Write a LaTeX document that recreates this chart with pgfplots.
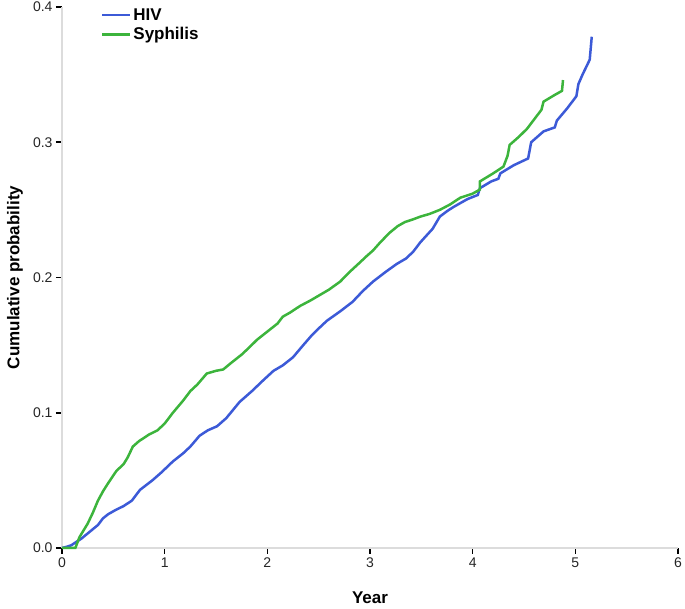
\documentclass[border=0pt]{standalone}
\usepackage{pgfplots}
\pgfplotsset{compat=1.18}
\usepackage{fontspec}
\setmainfont{Liberation Sans}

\definecolor{hivblue}{RGB}{60,90,215}
\definecolor{syphgreen}{RGB}{60,180,60}
\definecolor{axgray}{RGB}{220,220,220}

\begin{document}
\begin{tikzpicture}[x=1pt,y=1pt]
\begin{axis}[
    at={(0pt,0pt)}, anchor=south west,
    width=616pt, height=541pt, scale only axis,
    xmin=0, xmax=6, ymin=0, ymax=0.4,
    xtick={0,1,...,6}, ytick={0,0.1,0.2,0.3,0.4},
    yticklabel style={/pgf/number format/.cd, fixed, fixed zerofill, precision=1},
    /pgf/number format/assume math mode=true,
    tick label style={font=\fontsize{14}{16}\selectfont, text=black!85},
    axis lines*=left,
    axis line style={axgray, line width=1.4pt},
    tick style={black, line width=1.6pt},
    major tick style={black, line width=1.6pt},
    tick align=outside, major tick length=6pt,
    xlabel={\textbf{Year}}, ylabel={\textbf{Cumulative probability}},
    label style={font=\fontsize{17}{20}\selectfont},
    xlabel style={at={(axis description cs:0.5,-0.0924)}, anchor=center},
    ylabel style={at={(axis description cs:-0.0763,0.5)}, anchor=center},
    legend style={at={(rel axis cs:0.058,1.005)}, anchor=north west, draw=none, fill=none,
        font=\fontsize{17}{20}\selectfont\bfseries, row sep=2pt},
    legend cell align=left,
    legend image code/.code={\draw[#1, line width=2.5pt] (0pt,0pt) -- (28pt,0pt);},
    clip=false,
]
\addplot[hivblue, line width=2.5pt] coordinates {
(0,0) (0.05,0.001) (0.09,0.002) (0.19,0.007) (0.27,0.012) (0.35,0.017) (0.40,0.022)
(0.45,0.025) (0.52,0.028) (0.60,0.031) (0.68,0.035) (0.76,0.043) (0.88,0.050) (0.97,0.056)
(1.08,0.064) (1.18,0.070) (1.25,0.075) (1.34,0.083) (1.42,0.087) (1.51,0.090) (1.60,0.096)
(1.73,0.108) (1.85,0.116) (1.96,0.124) (2.06,0.131) (2.15,0.135) (2.25,0.141) (2.35,0.150)
(2.43,0.157) (2.51,0.163) (2.58,0.168) (2.71,0.175) (2.83,0.182) (2.93,0.190) (3.03,0.197)
(3.15,0.204) (3.26,0.210) (3.35,0.214) (3.42,0.219) (3.49,0.226) (3.55,0.231) (3.61,0.236)
(3.68,0.245) (3.75,0.249) (3.81,0.252) (3.88,0.255) (3.95,0.258) (4.05,0.261) (4.07,0.266)
(4.18,0.271) (4.25,0.273) (4.27,0.277) (4.40,0.283) (4.54,0.288) (4.57,0.300) (4.69,0.308)
(4.80,0.311) (4.82,0.316) (4.92,0.325) (5.01,0.334) (5.03,0.343) (5.07,0.350) (5.14,0.361)
(5.16,0.378)
};
\addlegendentry{HIV}
\addplot[syphgreen, line width=2.5pt] coordinates {
(0,0) (0.13,0) (0.17,0.008) (0.25,0.018) (0.30,0.026) (0.35,0.035) (0.40,0.042) (0.45,0.048)
(0.53,0.057) (0.60,0.062) (0.64,0.067) (0.69,0.075) (0.75,0.079) (0.85,0.084) (0.93,0.087)
(1.00,0.092) (1.08,0.100) (1.18,0.109) (1.25,0.116) (1.32,0.121) (1.41,0.129) (1.50,0.131)
(1.57,0.132) (1.65,0.137) (1.75,0.143) (1.82,0.148) (1.90,0.154) (2.00,0.160) (2.10,0.166)
(2.15,0.171) (2.22,0.174) (2.32,0.179) (2.42,0.183) (2.51,0.187) (2.60,0.191) (2.71,0.197)
(2.80,0.204) (2.90,0.211) (2.97,0.216) (3.03,0.220) (3.10,0.226) (3.19,0.233) (3.27,0.238)
(3.34,0.241) (3.42,0.243) (3.49,0.245) (3.58,0.247) (3.68,0.250) (3.78,0.254) (3.88,0.259)
(4.00,0.262) (4.07,0.265) (4.07,0.271) (4.20,0.277) (4.30,0.282) (4.34,0.290) (4.36,0.298)
(4.45,0.304) (4.53,0.310) (4.60,0.317) (4.67,0.324) (4.69,0.330) (4.80,0.335) (4.87,0.338)
(4.88,0.346)
};
\addlegendentry{Syphilis}
\end{axis}
\pgfresetboundingbox
\path[use as bounding box] (-62pt,-61pt) rectangle (623pt,548pt);
\end{tikzpicture}
\end{document}
